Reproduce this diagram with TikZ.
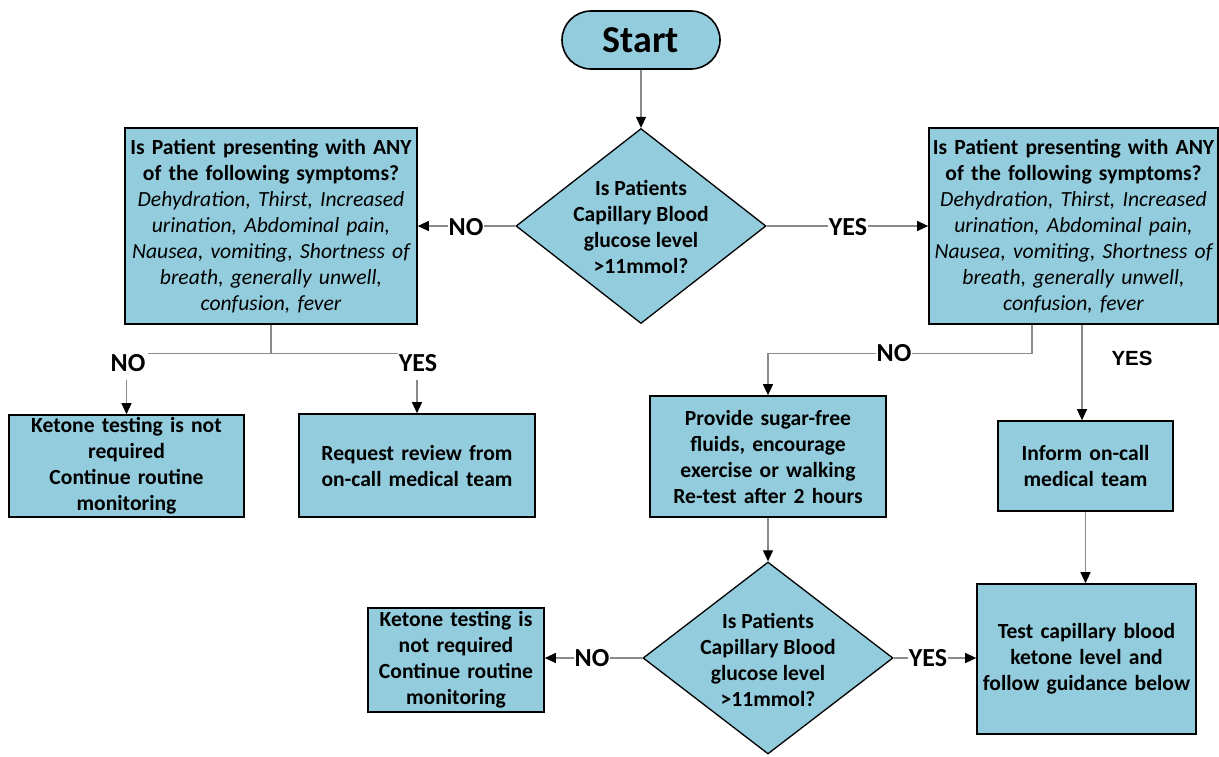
\documentclass[tikz,border=0pt]{standalone}
\usepackage{fontspec}
\setmainfont{Carlito}
\newfontfamily\arialfont{Liberation Sans}
\usetikzlibrary{shapes.geometric,arrows.meta}
\definecolor{boxblue}{HTML}{93CDDD}
\definecolor{linegray}{HTML}{8A8A8A}
\newcommand\bodyfont{\fontsize{21.6}{26}\selectfont\bfseries\hyphenpenalty=10000\exhyphenpenalty=10000}
\newcommand\lblfont{\fontsize{26}{30}\selectfont\bfseries}
\tikzset{
  box/.style={draw=black, line width=1.6pt, fill=boxblue, inner sep=0pt, align=center, font=\bodyfont, text=black},
  dia/.style={diamond, draw=black, line width=1.3pt, fill=boxblue, inner sep=0pt},
  diatext/.style={align=center, font=\bodyfont, inner sep=0pt},
  conn/.style={draw=linegray, line width=1.1pt, -{Triangle[length=11pt,width=10pt,color=black]}},
  plainline/.style={draw=linegray, line width=1.1pt},
  lbl/.style={fill=white, inner sep=1pt, font=\lblfont},
}
\begin{document}
\begin{tikzpicture}[x=1pt,y=-1pt]
\useasboundingbox (0,0) rectangle (1219,756);

% Start
\node[box, rounded corners=29pt, minimum width=158pt, minimum height=58pt,
      font=\fontsize{38}{44}\selectfont\bfseries] (start) at (641,40) {Start};

% Decision 1
\node[dia, minimum width=250pt, minimum height=195pt] (d1) at (641,226) {};
\node[diatext] (d1t) at (641,227) {Is Patients\\Capillary Blood\\glucose level\\>11mmol?};

% Symptom boxes
\node[box, minimum width=292pt, minimum height=196pt, text width=290pt] (lb) at (271,226)
  {Is Patient presenting with ANY\\of the following symptoms?\\\mdseries\itshape Dehydration, Thirst, Increased\\urination, Abdominal pain,\\Nausea, vomiting, Shortness of\\breath, generally unwell,\\confusion, fever};
\node[box, minimum width=289pt, minimum height=196pt, text width=288pt] (rb) at (1073.5,226)
  {Is Patient presenting with ANY\\of the following symptoms?\\\mdseries\itshape Dehydration, Thirst, Increased\\urination, Abdominal pain,\\Nausea, vomiting, Shortness of\\breath, generally unwell,\\confusion, fever};

% Row 2
\node[box, minimum width=235pt, minimum height=102pt, text width=232pt] (k1) at (126.5,466)
  {Ketone testing is not\\required\\Continue routine\\monitoring};
\node[box, minimum width=236pt, minimum height=103pt, text width=232pt] (rr) at (417,465.5)
  {Request review from\\on-call medical team};
\node[box, minimum width=236pt, minimum height=121pt, text width=232pt] (pv) at (768,456.5)
  {Provide sugar-free\\fluids, encourage\\exercise or walking\\Re-test after 2 hours};
\node[box, minimum width=175pt, minimum height=90pt, text width=172pt] (inf) at (1085.5,466)
  {Inform on-call\\medical team};

% Row 3
\node[dia, minimum width=250pt, minimum height=192pt] (d2) at (768,658) {};
\node[diatext] (d2t) at (768,660) {Is Patients\\Capillary Blood\\glucose level\\>11mmol?};
\node[box, minimum width=176pt, minimum height=104pt, text width=174pt] (k2) at (456,660)
  {Ketone testing is\\not required\\Continue routine\\monitoring};
\node[box, minimum width=219pt, minimum height=150pt, text width=216pt] (tb) at (1086.5,659)
  {Test capillary blood\\ketone level and\\follow guidance below};

% Connectors
\draw[conn] (start.south) -- (d1.north);
\draw[conn] (d1.west) -- (d1.west -| lb.east);
\draw[conn] (d1.east) -- (d1.east -| rb.west);
\node[lbl] (no1) at (466,227) {NO};
\node[lbl] (yes1) at (848,227) {YES};

\coordinate (lj) at ([yshift=-29pt]lb.south);
\draw[plainline] (lb.south) -- (lj);
\draw[conn] (lj) -| (k1.north);
\draw[conn] (lj) -| (rr.north);
\node[lbl, minimum width=40pt, minimum height=34pt] (no2) at (128,363) {NO};
\node[lbl, minimum width=40pt, minimum height=34pt] (yes2) at (418,363) {YES};

\coordinate (rbno) at ([xshift=-41.5pt]rb.south);
\coordinate (rbyes) at ([xshift=8.5pt]rb.south);
\draw[conn] (rbno) -- ++(0,29) -| (pv.north);
\node[lbl] (no3) at (894,353) {NO};
\draw[conn] (rbyes) -- (rbyes |- inf.north);
\node[font=\arialfont\fontsize{20.5}{24}\selectfont\bfseries, inner sep=0pt] (yes3) at (1132,358) {YES};

\draw[conn] (inf.south) -- (inf.south |- tb.north);
\draw[conn] (pv.south) -- (d2.north);
\draw[conn] (d2.west) -- (d2.west -| k2.east);
\draw[conn] (d2.east) -- (d2.east -| tb.west);
\node[lbl] (no4) at (592,658) {NO};
\node[lbl] (yes4) at (928,658) {YES};
\end{tikzpicture}
\end{document}
